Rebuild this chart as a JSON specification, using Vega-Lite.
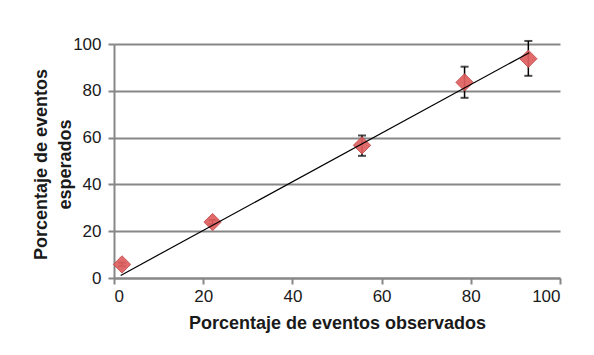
{
  "$schema": "https://vega.github.io/schema/vega-lite/v6.json",
  "autosize": "none",
  "width": 446,
  "height": 234,
  "padding": {"left": 114, "top": 44, "right": 34, "bottom": 77},
  "background": "white",
  "datasets": {
    "obs": [
      {"observado": 1.8, "esperado": 5.8, "bajo": 5.0, "alto": 6.6},
      {"observado": 22.1, "esperado": 23.9, "bajo": 23.0, "alto": 24.8},
      {"observado": 55.6, "esperado": 56.7, "bajo": 52.2, "alto": 60.9},
      {"observado": 78.6, "esperado": 83.6, "bajo": 77.0, "alto": 90.3},
      {"observado": 92.9, "esperado": 93.7, "bajo": 86.4, "alto": 101.3}
    ],
    "tendencia": [
      {"observado": 1.5, "esperado": 1.1},
      {"observado": 93.1, "esperado": 96.3}
    ]
  },
  "layer": [
    {
      "data": {"name": "obs"},
      "mark": {"type": "rule", "color": "black", "strokeWidth": 1.5, "clip": false},
      "encoding": {
        "x": {"field": "observado", "type": "quantitative"},
        "y": {"field": "bajo", "type": "quantitative"},
        "y2": {"field": "alto"}
      }
    },
    {
      "data": {"name": "obs"},
      "mark": {"type": "tick", "orient": "horizontal", "color": "black", "size": 8, "thickness": 2, "clip": false},
      "encoding": {
        "x": {"field": "observado", "type": "quantitative"},
        "y": {"field": "bajo", "type": "quantitative"}
      }
    },
    {
      "data": {"name": "obs"},
      "mark": {"type": "tick", "orient": "horizontal", "color": "black", "size": 8, "thickness": 2, "clip": false},
      "encoding": {
        "x": {"field": "observado", "type": "quantitative"},
        "y": {"field": "alto", "type": "quantitative"}
      }
    },
    {
      "data": {"name": "obs"},
      "mark": {"type": "point", "shape": "diamond", "filled": true, "size": 300, "fill": "#df5f5f", "stroke": "#c44a4a", "strokeWidth": 1, "opacity": 0.92},
      "encoding": {
        "x": {"field": "observado", "type": "quantitative"},
        "y": {"field": "esperado", "type": "quantitative"}
      }
    },
    {
      "data": {"name": "tendencia"},
      "mark": {"type": "line", "color": "black", "strokeWidth": 1.2},
      "encoding": {
        "x": {
          "field": "observado", "type": "quantitative",
          "scale": {"domain": [0, 100], "nice": false, "zero": true},
          "axis": {
            "title": "Porcentaje de eventos observados",
            "values": [0, 20, 40, 60, 80, 100],
            "grid": false,
            "domainColor": "#878787", "domainWidth": 2,
            "tickColor": "#878787", "tickWidth": 2, "tickSize": 6,
            "labelFont": "Liberation Sans", "labelFontSize": 17, "labelColor": "#1a1a1a",
            "labelPadding": 4,
            "titleFont": "Liberation Sans", "titleFontSize": 18, "titleFontWeight": "bold", "titleColor": "#1a1a1a",
            "titlePadding": 10
          }
        },
        "y": {
          "field": "esperado", "type": "quantitative",
          "scale": {"domain": [0, 100], "nice": false},
          "axis": {
            "title": ["Porcentaje de eventos", "esperados"],
            "values": [0, 20, 40, 60, 80, 100],
            "grid": true, "gridColor": "#878787", "gridWidth": 2,
            "domainColor": "#878787", "domainWidth": 2,
            "tickColor": "#878787", "tickWidth": 2, "tickSize": 6,
            "labelFont": "Liberation Sans", "labelFontSize": 17, "labelColor": "#1a1a1a",
            "labelPadding": 7,
            "titleFont": "Liberation Sans", "titleFontSize": 18, "titleFontWeight": "bold", "titleColor": "#1a1a1a",
            "titleLineHeight": 24,
            "titlePadding": -2,
            "titleY": 120
          }
        }
      }
    }
  ],
  "config": {"view": {"stroke": null}}
}
